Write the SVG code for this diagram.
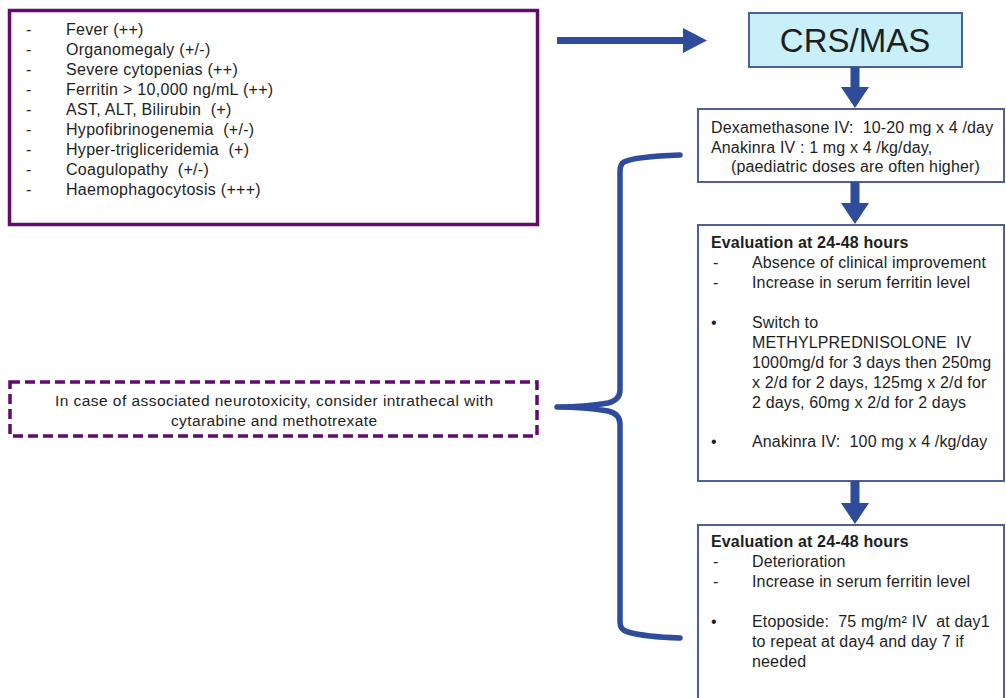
<svg xmlns="http://www.w3.org/2000/svg" width="1006" height="698" viewBox="0 0 1006 698">
<defs>
<style>
.t{font-family:"Liberation Sans",Arial,sans-serif;font-size:16px;letter-spacing:0.3px;fill:#1e1e1e}
.r{font-family:"Liberation Sans",Arial,sans-serif;font-size:16px;letter-spacing:0.15px;fill:#1e1e1e}
.b{font-weight:bold}
.n{font-family:"Liberation Sans Narrow","Liberation Sans",Arial,sans-serif;font-size:15.5px;fill:#1e1e1e}
.pbox{fill:#ffffff;stroke:#620a6e;stroke-width:3.5}
.dbox{fill:#ffffff;stroke:#620a6e;stroke-width:3.5;stroke-dasharray:10 5}
.box{fill:#ffffff;stroke:#4e5f99;stroke-width:2}
.crs{fill:#c9eff9;stroke:#4e5f99;stroke-width:2}
.arr{fill:#2f4b9b}
.brace{fill:none;stroke:#2f4b9b;stroke-width:5.5;stroke-linecap:round;stroke-linejoin:round}
</style>
</defs>
<rect width="1006" height="698" fill="#ffffff"/>

<g id="criteria">
<rect class="pbox" x="9.5" y="10.5" width="528" height="214"/>
<g class="t">
<text x="26" y="35">-</text><text x="66" y="35">Fever (++)</text>
<text x="26" y="55">-</text><text x="66" y="55">Organomegaly (+/-)</text>
<text x="26" y="75">-</text><text x="66" y="75">Severe cytopenias (++)</text>
<text x="26" y="95">-</text><text x="66" y="95">Ferritin &gt; 10,000 ng/mL (++)</text>
<text x="26" y="115">-</text><text x="66" y="115" xml:space="preserve">AST, ALT, Bilirubin  (+)</text>
<text x="26" y="135">-</text><text x="66" y="135" xml:space="preserve">Hypofibrinogenemia  (+/-)</text>
<text x="26" y="155">-</text><text x="66" y="155" xml:space="preserve">Hyper-trigliceridemia  (+)</text>
<text x="26" y="175">-</text><text x="66" y="175" xml:space="preserve">Coagulopathy  (+/-)</text>
<text x="26" y="195">-</text><text x="66" y="195">Haemophagocytosis (+++)</text>
</g>
</g>

<g id="crs-mas">
<rect class="crs" x="749" y="13" width="213" height="54"/>
<text x="855" y="52" text-anchor="middle" style="font-family:'Liberation Sans',Arial,sans-serif;font-size:33px;fill:#1e1e1e">CRS/MAS</text>
</g>

<g id="first-line">
<rect class="box" x="698" y="109" width="306" height="73"/>
<g class="r">
<text x="711" y="133" xml:space="preserve">Dexamethasone IV:  10-20 mg x 4 /day</text>
<text x="711" y="153">Anakinra IV : 1 mg x 4 /kg/day,</text>
<text x="731" y="172">(paediatric doses are often higher)</text>
</g>
</g>

<g id="evaluation-1">
<rect class="box" x="698" y="225" width="306" height="256"/>
<g class="r">
<text class="b" x="711" y="248">Evaluation at 24-48 hours</text>
<text x="713" y="268">-</text><text x="752" y="268">Absence of clinical improvement</text>
<text x="713" y="288">-</text><text x="752" y="288">Increase in serum ferritin level</text>
<text x="711" y="328">•</text><text x="752" y="328">Switch to</text>
<text x="752" y="348" xml:space="preserve">METHYLPREDNISOLONE  IV</text>
<text x="752" y="368">1000mg/d for 3 days then 250mg</text>
<text x="752" y="388">x 2/d for 2 days, 125mg x 2/d for</text>
<text x="752" y="408">2 days, 60mg x 2/d for 2 days</text>
<text x="711" y="447">•</text><text x="752" y="447" xml:space="preserve">Anakinra IV:  100 mg x 4 /kg/day</text>
</g>
</g>

<g id="evaluation-2">
<rect class="box" x="698" y="525" width="306" height="180"/>
<g class="r">
<text class="b" x="711" y="547">Evaluation at 24-48 hours</text>
<text x="713" y="567">-</text><text x="752" y="567">Deterioration</text>
<text x="713" y="587">-</text><text x="752" y="587">Increase in serum ferritin level</text>
<text x="711" y="627">•</text><text x="752" y="627" xml:space="preserve">Etoposide:  75 mg/m² IV  at day1</text>
<text x="752" y="647">to repeat at day4 and day 7 if</text>
<text x="752" y="667">needed</text>
</g>
</g>

<g id="neurotoxicity">
<rect class="dbox" x="10" y="382" width="527" height="54"/>
<text class="n" x="274" y="406" text-anchor="middle" textLength="438" lengthAdjust="spacing">In case of associated neurotoxicity, consider intrathecal with</text>
<text class="n" x="274" y="426" text-anchor="middle" textLength="206" lengthAdjust="spacing">cytarabine and methotrexate</text>
</g>

<g id="connectors">
<path class="arr" d="M557 37 H683 V28 L707 40.5 L683 53 V44 H557 Z"/>
<path class="arr" d="M850.5 67 H859.5 V87 H869 L855 108 L841 87 H850.5 Z"/>
<path class="arr" d="M850.5 182 H859.5 V203 H869 L855 224 L841 203 H850.5 Z"/>
<path class="arr" d="M850.5 481 H859.5 V503 H869 L855 524 L841 503 H850.5 Z"/>
<path class="brace" d="M680 155 C652 156 632 158 624 162 Q620 164 620 172 V390 Q620 400 608 403 Q585 407 557 407 Q585 407 608 411 Q620 414 620 424 V622 Q620 630 628 632 Q645 637 680 638"/>
</g>
</svg>
